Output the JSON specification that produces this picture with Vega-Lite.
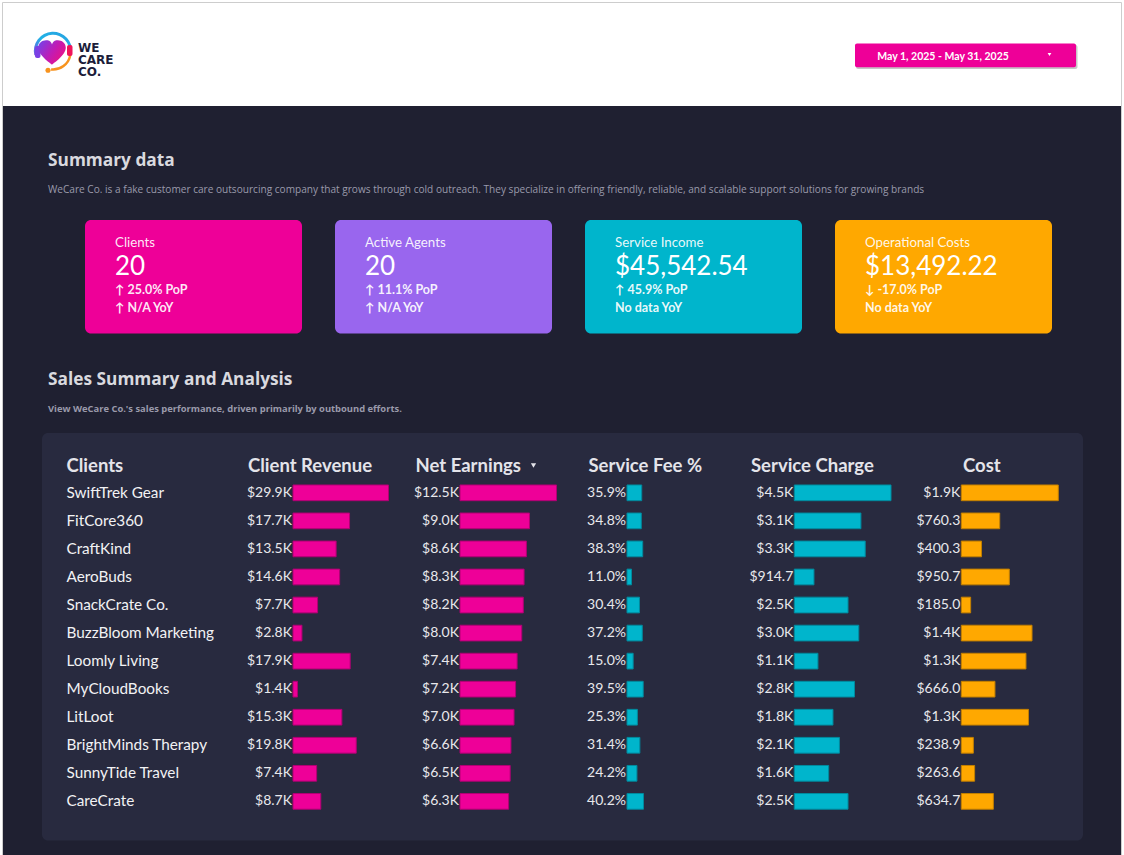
{
  "$schema": "https://vega.github.io/schema/vega-lite/v6.json",
  "width": 1124,
  "height": 855,
  "padding": 0,
  "autosize": {"type": "none"},
  "background": "#ffffff",
  "config": {
    "view": {"stroke": null},
    "axis": {"disable": true},
    "legend": {"disable": true}
  },
  "datasets": {
    "kpis": [
      {"metric": "Clients", "kind": "count", "value": 20, "pop": 25.0, "yoy": "↑ N/A YoY"},
      {"metric": "Active Agents", "kind": "count", "value": 20, "pop": 11.1, "yoy": "↑ N/A YoY"},
      {"metric": "Service Income", "kind": "money", "value": 45542.54, "pop": 45.9, "yoy": "No data YoY"},
      {"metric": "Operational Costs", "kind": "money", "value": 13492.22, "pop": -17.0, "yoy": "No data YoY"}
    ],
    "clients": [
      {"client": "SwiftTrek Gear", "revenue": 29900, "net_earnings": 12500, "fee_pct": 35.9, "service_charge": 4500, "cost": 1920},
      {"client": "FitCore360", "revenue": 17700, "net_earnings": 9000, "fee_pct": 34.8, "service_charge": 3100, "cost": 760.3},
      {"client": "CraftKind", "revenue": 13500, "net_earnings": 8600, "fee_pct": 38.3, "service_charge": 3300, "cost": 400.3},
      {"client": "AeroBuds", "revenue": 14600, "net_earnings": 8300, "fee_pct": 11.0, "service_charge": 914.7, "cost": 950.7},
      {"client": "SnackCrate Co.", "revenue": 7700, "net_earnings": 8200, "fee_pct": 30.4, "service_charge": 2500, "cost": 185.0},
      {"client": "BuzzBloom Marketing", "revenue": 2800, "net_earnings": 8000, "fee_pct": 37.2, "service_charge": 3000, "cost": 1400},
      {"client": "Loomly Living", "revenue": 17900, "net_earnings": 7400, "fee_pct": 15.0, "service_charge": 1100, "cost": 1280},
      {"client": "MyCloudBooks", "revenue": 1400, "net_earnings": 7200, "fee_pct": 39.5, "service_charge": 2800, "cost": 666.0},
      {"client": "LitLoot", "revenue": 15300, "net_earnings": 7000, "fee_pct": 25.3, "service_charge": 1800, "cost": 1330},
      {"client": "BrightMinds Therapy", "revenue": 19800, "net_earnings": 6600, "fee_pct": 31.4, "service_charge": 2100, "cost": 238.9},
      {"client": "SunnyTide Travel", "revenue": 7400, "net_earnings": 6500, "fee_pct": 24.2, "service_charge": 1600, "cost": 263.6},
      {"client": "CareCrate", "revenue": 8700, "net_earnings": 6300, "fee_pct": 40.2, "service_charge": 2500, "cost": 634.7}
    ]
  },
  "data": {"values": [{}]},
  "resolve": {"scale": {"x": "independent"}},
  "layer": [
    {"mark": {"type": "rect", "x": 3, "x2": 1121, "y": 106, "y2": 855, "fill": "#1f2031"}},
    {"mark": {"type": "rect", "x": 2.5, "x2": 1121.5, "y": 2.5, "y2": 900, "fillOpacity": 0, "stroke": "#cdcdcd", "strokeWidth": 1}},

    {"mark": {"type": "arc", "x": 53, "y": 51, "innerRadius": 16.2, "outerRadius": 19.2, "theta": -1.8, "theta2": 1.7,
      "fill": {"gradient": "linear", "x1": 0, "y1": 1, "x2": 1, "y2": 0, "stops": [{"offset": 0, "color": "#7a4fe0"}, {"offset": 0.45, "color": "#1fb3e6"}, {"offset": 1, "color": "#2a9fe0"}]}},
      "encoding": {}},
    {"mark": {"type": "rect", "x": 35, "x2": 40.5, "y": 46, "y2": 58, "cornerRadius": 2, "fill": "#7b3fe4"}},
    {"mark": {"type": "arc", "x": 53, "y": 52, "innerRadius": 16.3, "outerRadius": 18.8, "theta": 1.75, "theta2": 3.25, "fill": "#f7931e"}, "encoding": {}},
    {"mark": {"type": "rect", "x": 67, "x2": 72.5, "y": 45, "y2": 56, "cornerRadius": 2, "fill": "#f0145a"}},
    {"mark": {"type": "point", "shape": "circle", "x": 48, "y": 70.3, "size": 26, "filled": true, "fill": "#f7931e", "opacity": 1}},
    {"mark": {"type": "point", "x": 52, "y": 53, "size": 760, "filled": true, "opacity": 1,
      "shape": "M0,0.85 C-0.15,0.72 -1,0.15 -1,-0.38 C-1,-0.78 -0.62,-0.98 -0.32,-0.92 C-0.14,-0.88 -0.04,-0.76 0,-0.62 C0.04,-0.76 0.14,-0.88 0.32,-0.92 C0.62,-0.98 1,-0.78 1,-0.38 C1,0.15 0.15,0.72 0,0.85 Z",
      "fill": {"gradient": "linear", "x1": 0, "y1": 0.2, "x2": 1, "y2": 0.8, "stops": [{"offset": 0, "color": "#7b3fe4"}, {"offset": 0.5, "color": "#c11bb4"}, {"offset": 1, "color": "#f0127c"}]}}},
    {"mark": {"type": "text", "x": 78, "y": 47.6, "text": ["WE", "CARE", "CO."], "lineHeight": 12.4, "baseline": "middle", "align": "left", "font": "DejaVu Sans", "fontWeight": "bold", "fontSize": 12, "fill": "#1c1d3a"}},

    {"mark": {"type": "rect", "x": 856, "x2": 1077.5, "y": 45, "y2": 69, "cornerRadius": 2, "fill": "#000000", "opacity": 0.22}},
    {"mark": {"type": "rect", "x": 855, "x2": 1076, "y": 43.5, "y2": 67.3, "cornerRadius": 2, "fill": "#ee0098"}},
    {"mark": {"type": "text", "x": 943, "y": 59.6, "text": "May 1, 2025 - May 31, 2025", "align": "center", "baseline": "alphabetic", "font": "Lato", "fontWeight": "bold", "fontSize": 10.5, "fill": "#ffffff"}},
    {"mark": {"type": "point", "shape": "triangle-down", "x": 1049.5, "y": 54.5, "size": 14, "filled": true, "fill": "#ffffff", "opacity": 1}},

    {"mark": {"type": "text", "x": 48, "y": 166, "text": "Summary data", "align": "left", "baseline": "alphabetic", "font": "Open Sans", "fontWeight": "bold", "fontSize": 17.3, "fill": "#d9d9df"}},
    {"mark": {"type": "text", "x": 48, "y": 193, "text": "WeCare Co. is a fake customer care outsourcing company that grows through cold outreach. They specialize in offering friendly, reliable, and scalable support solutions for growing brands", "align": "left", "baseline": "alphabetic", "font": "Open Sans", "fontSize": 10.1, "fill": "#9a9aab"}},
    {"mark": {"type": "text", "x": 48, "y": 385, "text": "Sales Summary and Analysis", "align": "left", "baseline": "alphabetic", "font": "Open Sans", "fontWeight": "bold", "fontSize": 17.3, "fill": "#d9d9df"}},
    {"mark": {"type": "text", "x": 48, "y": 411.5, "text": "View WeCare Co.'s sales performance, driven primarily by outbound efforts.", "align": "left", "baseline": "alphabetic", "font": "Open Sans", "fontWeight": "bold", "fontSize": 9.4, "fill": "#9a9aab"}},

    {
      "data": {"name": "kpis"},
      "transform": [
        {"calculate": "datum.kind == 'money' ? format(datum.value, '$,.2f') : format(datum.value, 'd')", "as": "value_label"},
        {"calculate": "(datum.pop < 0 ? '↓ -' : '↑ ') + format(abs(datum.pop), '.1f') + '% PoP'", "as": "pop_label"}
      ],
      "layer": [
        {"mark": {"type": "rect", "y": 220, "y2": 333.5, "cornerRadius": 6},
          "encoding": {
            "x": {"field": "metric", "type": "nominal", "sort": null, "axis": null,
              "scale": {"domain": ["Clients", "Active Agents", "Service Income", "Operational Costs"], "range": [85, 1052], "paddingInner": 0.132, "paddingOuter": 0}},
            "fill": {"field": "metric", "type": "nominal", "legend": null,
              "scale": {"domain": ["Clients", "Active Agents", "Service Income", "Operational Costs"], "range": ["#ee0098", "#9966ee", "#00b5cc", "#ffa800"]}}
          }},
        {"mark": {"type": "text", "align": "left", "baseline": "alphabetic", "dx": 30, "y": 247.3, "font": "Lato", "fontSize": 13.3, "fill": "#ffffff", "fillOpacity": 0.92},
          "encoding": {"x": {"field": "metric", "type": "nominal", "sort": null, "bandPosition": 0}, "text": {"field": "metric"}}},
        {"mark": {"type": "text", "align": "left", "baseline": "alphabetic", "dx": 30, "y": 275, "font": "Lato", "fontSize": 26, "fill": "#ffffff"},
          "encoding": {"x": {"field": "metric", "type": "nominal", "sort": null, "bandPosition": 0}, "text": {"field": "value_label"}}},
        {"mark": {"type": "text", "align": "left", "baseline": "alphabetic", "dx": 30, "y": 294, "font": "Lato", "fontWeight": "bold", "fontSize": 12.5, "fill": "#ffffff", "fillOpacity": 0.92},
          "encoding": {"x": {"field": "metric", "type": "nominal", "sort": null, "bandPosition": 0}, "text": {"field": "pop_label"}}},
        {"mark": {"type": "text", "align": "left", "baseline": "alphabetic", "dx": 30, "y": 312.3, "font": "Lato", "fontWeight": "bold", "fontSize": 12.5, "fill": "#ffffff", "fillOpacity": 0.92},
          "encoding": {"x": {"field": "metric", "type": "nominal", "sort": null, "bandPosition": 0}, "text": {"field": "yoy"}}}
      ]
    },

    {"mark": {"type": "rect", "x": 42, "x2": 1083, "y": 433, "y2": 840.5, "cornerRadius": 6, "fill": "#282a3f"}},
    {"mark": {"type": "text", "x": 66.5, "y": 471.5, "text": "Clients", "align": "left", "baseline": "alphabetic", "font": "Lato", "fontWeight": "bold", "fontSize": 18.5, "fill": "#e4e4ea"}},
    {"mark": {"type": "text", "x": 248, "y": 471.5, "text": "Client Revenue", "align": "left", "baseline": "alphabetic", "font": "Lato", "fontWeight": "bold", "fontSize": 18.5, "fill": "#e4e4ea"}},
    {"mark": {"type": "text", "x": 415.5, "y": 471.5, "text": "Net Earnings", "align": "left", "baseline": "alphabetic", "font": "Lato", "fontWeight": "bold", "fontSize": 18.5, "fill": "#e4e4ea"}},
    {"mark": {"type": "point", "shape": "triangle-down", "x": 533.5, "y": 465.5, "size": 28, "filled": true, "fill": "#e4e4ea", "opacity": 1}},
    {"mark": {"type": "text", "x": 588.5, "y": 471.5, "text": "Service Fee %", "align": "left", "baseline": "alphabetic", "font": "Lato", "fontWeight": "bold", "fontSize": 18.5, "fill": "#e4e4ea"}},
    {"mark": {"type": "text", "x": 751, "y": 471.5, "text": "Service Charge", "align": "left", "baseline": "alphabetic", "font": "Lato", "fontWeight": "bold", "fontSize": 18.5, "fill": "#e4e4ea"}},
    {"mark": {"type": "text", "x": 963, "y": 471.5, "text": "Cost", "align": "left", "baseline": "alphabetic", "font": "Lato", "fontWeight": "bold", "fontSize": 18.5, "fill": "#e4e4ea"}},

    {
      "data": {"name": "clients"},
      "mark": {"type": "text", "align": "left", "baseline": "middle", "x": 66.5, "font": "Lato", "fontSize": 15.3, "fill": "#f2f2f4"},
      "encoding": {
        "y": {"field": "client", "type": "nominal", "sort": null, "axis": null, "scale": {"range": [478.8, 815.4], "paddingInner": 0.44, "paddingOuter": 0.22}},
        "text": {"field": "client"}
      }
    },

    {
      "data": {"name": "clients"},
      "transform": [{"calculate": "datum.revenue >= 1000 ? '$' + format(datum.revenue / 1000, '.1f') + 'K' : '$' + format(datum.revenue, '.1f')", "as": "label"}],
      "layer": [
        {"mark": {"type": "bar", "fill": "#ee0098", "stroke": "#b00073", "strokeWidth": 1},
          "encoding": {
            "y": {"field": "client", "type": "nominal", "sort": null, "axis": null, "scale": {"range": [478.8, 815.4], "paddingInner": 0.44, "paddingOuter": 0.22}},
            "x": {"field": "revenue", "type": "quantitative", "axis": null, "scale": {"zero": true, "nice": false, "range": [293, 388.5]}}
          }},
        {"mark": {"type": "text", "align": "right", "baseline": "middle", "dx": -1, "font": "Lato", "fontSize": 14, "fill": "#e8e8ec"},
          "encoding": {
            "y": {"field": "client", "type": "nominal", "sort": null, "axis": null},
            "x": {"datum": 0, "type": "quantitative"},
            "text": {"field": "label"}
          }}
      ]
    },

    {
      "data": {"name": "clients"},
      "transform": [{"calculate": "datum.net_earnings >= 1000 ? '$' + format(datum.net_earnings / 1000, '.1f') + 'K' : '$' + format(datum.net_earnings, '.1f')", "as": "label"}],
      "layer": [
        {"mark": {"type": "bar", "fill": "#ee0098", "stroke": "#b00073", "strokeWidth": 1},
          "encoding": {
            "y": {"field": "client", "type": "nominal", "sort": null, "axis": null, "scale": {"range": [478.8, 815.4], "paddingInner": 0.44, "paddingOuter": 0.22}},
            "x": {"field": "net_earnings", "type": "quantitative", "axis": null, "scale": {"zero": true, "nice": false, "range": [460, 556.5]}}
          }},
        {"mark": {"type": "text", "align": "right", "baseline": "middle", "dx": -1, "font": "Lato", "fontSize": 14, "fill": "#e8e8ec"},
          "encoding": {
            "y": {"field": "client", "type": "nominal", "sort": null, "axis": null},
            "x": {"datum": 0, "type": "quantitative"},
            "text": {"field": "label"}
          }}
      ]
    },

    {
      "data": {"name": "clients"},
      "transform": [{"calculate": "format(datum.fee_pct, '.1f') + '%'", "as": "label"}],
      "layer": [
        {"mark": {"type": "bar", "fill": "#00b5cc", "stroke": "#008a9e", "strokeWidth": 1},
          "encoding": {
            "y": {"field": "client", "type": "nominal", "sort": null, "axis": null, "scale": {"range": [478.8, 815.4], "paddingInner": 0.44, "paddingOuter": 0.22}},
            "x": {"field": "fee_pct", "type": "quantitative", "axis": null, "scale": {"domain": [0, 100], "nice": false, "range": [627, 668]}}
          }},
        {"mark": {"type": "text", "align": "right", "baseline": "middle", "dx": -1, "font": "Lato", "fontSize": 14, "fill": "#e8e8ec"},
          "encoding": {
            "y": {"field": "client", "type": "nominal", "sort": null, "axis": null},
            "x": {"datum": 0, "type": "quantitative"},
            "text": {"field": "label"}
          }}
      ]
    },

    {
      "data": {"name": "clients"},
      "transform": [{"calculate": "datum.service_charge >= 1000 ? '$' + format(datum.service_charge / 1000, '.1f') + 'K' : '$' + format(datum.service_charge, '.1f')", "as": "label"}],
      "layer": [
        {"mark": {"type": "bar", "fill": "#00b5cc", "stroke": "#008a9e", "strokeWidth": 1},
          "encoding": {
            "y": {"field": "client", "type": "nominal", "sort": null, "axis": null, "scale": {"range": [478.8, 815.4], "paddingInner": 0.44, "paddingOuter": 0.22}},
            "x": {"field": "service_charge", "type": "quantitative", "axis": null, "scale": {"zero": true, "nice": false, "range": [794.3, 891]}}
          }},
        {"mark": {"type": "text", "align": "right", "baseline": "middle", "dx": -1, "font": "Lato", "fontSize": 14, "fill": "#e8e8ec"},
          "encoding": {
            "y": {"field": "client", "type": "nominal", "sort": null, "axis": null},
            "x": {"datum": 0, "type": "quantitative"},
            "text": {"field": "label"}
          }}
      ]
    },

    {
      "data": {"name": "clients"},
      "transform": [{"calculate": "datum.cost >= 1000 ? '$' + format(datum.cost / 1000, '.1f') + 'K' : '$' + format(datum.cost, '.1f')", "as": "label"}],
      "layer": [
        {"mark": {"type": "bar", "fill": "#ffa800", "stroke": "#c27f00", "strokeWidth": 1},
          "encoding": {
            "y": {"field": "client", "type": "nominal", "sort": null, "axis": null, "scale": {"range": [478.8, 815.4], "paddingInner": 0.44, "paddingOuter": 0.22}},
            "x": {"field": "cost", "type": "quantitative", "axis": null, "scale": {"zero": true, "nice": false, "range": [961.3, 1058.3]}}
          }},
        {"mark": {"type": "text", "align": "right", "baseline": "middle", "dx": -1, "font": "Lato", "fontSize": 14, "fill": "#e8e8ec"},
          "encoding": {
            "y": {"field": "client", "type": "nominal", "sort": null, "axis": null},
            "x": {"datum": 0, "type": "quantitative"},
            "text": {"field": "label"}
          }}
      ]
    }
  ]
}
